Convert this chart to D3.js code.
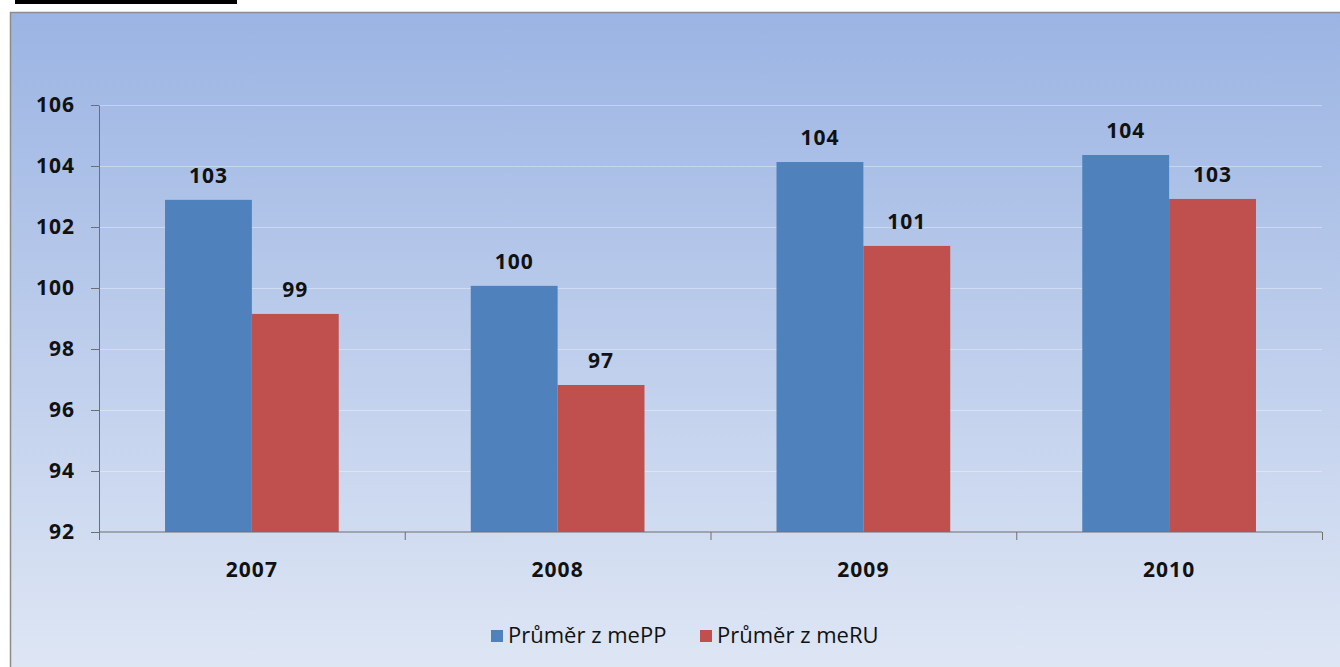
<!DOCTYPE html>
<html>
<head>
<meta charset="utf-8">
<script src="https://cdn.jsdelivr.net/npm/d3@7"></script>
<style>
  body { margin: 0; background: #fff; }
  svg { display: block; }
</style>
</head>
<body>
<div id="chart"></div>
<script>
// data
const years = ["2007", "2008", "2009", "2010"];
const seriesNames = ["Průměr z mePP", "Průměr z meRU"];
const mePP = [102.89, 100.07, 104.13, 104.36];
const meRU = [99.15, 96.82, 101.38, 102.92];
const yTicks = [92, 94, 96, 98, 100, 102, 104, 106];
const colors = ["#4f81bd", "#c0504d"];

const width = 1340, height = 667;
const margin = { top: 105, right: 18, bottom: 135, left: 99 };
const font = "'Open Sans', 'DejaVu Sans', sans-serif";

const svg = d3.select("#chart").append("svg")
    .attr("width", width)
    .attr("height", height);

// background gradient of the chart area
const defs = svg.append("defs");
const grad = defs.append("linearGradient")
    .attr("id", "bg")
    .attr("x1", 0).attr("y1", 0).attr("x2", 0).attr("y2", 1);
grad.append("stop").attr("offset", "0%").attr("stop-color", "#9bb4e3");
grad.append("stop").attr("offset", "100%").attr("stop-color", "#dee6f4");

// black strip top left
svg.append("rect")
    .attr("x", 15).attr("y", 0)
    .attr("width", 222).attr("height", 4)
    .attr("fill", "#000");

svg.append("rect")
    .attr("x", 10).attr("y", 12)
    .attr("width", width - 10).attr("height", height - 12)
    .attr("fill", "url(#bg)");
// frame lines (left + top)
svg.append("path")
    .attr("d", `M10.5,${height}V12.5H${width}`)
    .attr("fill", "none")
    .attr("stroke", "#8c8c8c")
    .attr("stroke-width", 1.5);

const x0 = d3.scaleBand()
    .domain(years)
    .range([margin.left, width - margin.right]);

const x1 = d3.scaleBand()
    .domain(seriesNames)
    .range([0, x0.bandwidth()])
    .paddingInner(0)
    .paddingOuter(0.76);

const y = d3.scaleLinear()
    .domain([92, 106])
    .range([height - margin.bottom, margin.top]);

// gridlines
svg.append("g")
    .selectAll("line")
    .data(yTicks.slice(1))
    .join("line")
    .attr("x1", margin.left).attr("x2", width - margin.right)
    .attr("y1", d => y(d) + 0.5).attr("y2", d => y(d) + 0.5)
    .attr("stroke", "#ffffff")
    .attr("stroke-opacity", 0.35);

// bars
const rows = years.map((yr, i) => ({ year: yr, values: [mePP[i], meRU[i]] }));

const groups = svg.append("g")
    .selectAll("g")
    .data(rows)
    .join("g")
    .attr("transform", d => `translate(${x0(d.year)},0)`);

groups.selectAll("rect")
    .data(d => d.values.map((v, j) => ({ name: seriesNames[j], value: v, j })))
    .join("rect")
    .attr("x", d => x1(d.name))
    .attr("y", d => y(d.value))
    .attr("width", x1.bandwidth())
    .attr("height", d => y(92) - y(d.value))
    .attr("fill", d => colors[d.j]);

// number text style (labels, ticks)
function numStyle(sel) {
    sel.style("font-family", font)
        .style("font-weight", "bold")
        .style("font-size", "21px")
        .style("letter-spacing", "1px")
        .attr("fill", "#111");
}

// value labels
groups.selectAll("text")
    .data(d => d.values.map((v, j) => ({ name: seriesNames[j], value: v })))
    .join("text")
    .attr("x", d => x1(d.name) + x1.bandwidth() / 2)
    .attr("y", d => y(d.value) - 17)
    .attr("text-anchor", "middle")
    .call(numStyle)
    .text(d => Math.round(d.value));

// y axis
const yAxis = svg.append("g")
    .attr("transform", `translate(${margin.left},0)`)
    .call(d3.axisLeft(y).tickValues(yTicks).tickSize(8).tickPadding(16).tickSizeOuter(0));
yAxis.select(".domain").attr("stroke", "#6f6f6f");
yAxis.selectAll(".tick line").attr("stroke", "#6f6f6f");
yAxis.selectAll("text").call(numStyle);

// x axis: ticks on category boundaries
const xAxisG = svg.append("g")
    .attr("transform", `translate(0,${y(92)})`);
xAxisG.append("line")
    .attr("x1", margin.left).attr("x2", width - margin.right)
    .attr("stroke", "#6f6f6f");
const bounds = years.map(d => x0(d)).concat([x0(years[years.length - 1]) + x0.bandwidth()]);
xAxisG.selectAll("line.tk")
    .data(bounds)
    .join("line")
    .attr("class", "tk")
    .attr("x1", d => d + 0.5).attr("x2", d => d + 0.5)
    .attr("y1", 0).attr("y2", 8)
    .attr("stroke", "#6f6f6f");
xAxisG.selectAll("text")
    .data(years)
    .join("text")
    .attr("x", d => x0(d) + x0.bandwidth() / 2)
    .attr("y", 45)
    .attr("text-anchor", "middle")
    .call(numStyle)
    .text(d => d);

// legend
const legend = svg.append("g").attr("transform", "translate(491,630)");
const legendX = [0, 209];
seriesNames.forEach((name, i) => {
    const item = legend.append("g").attr("transform", `translate(${legendX[i]},0)`);
    item.append("rect")
        .attr("width", 12).attr("height", 12)
        .attr("fill", colors[i]);
    item.append("text")
        .attr("x", 17).attr("y", 13)
        .style("font-family", font)
        .style("font-size", "22px")
        .attr("fill", "#111")
        .text(name);
});
</script>
</body>
</html>
